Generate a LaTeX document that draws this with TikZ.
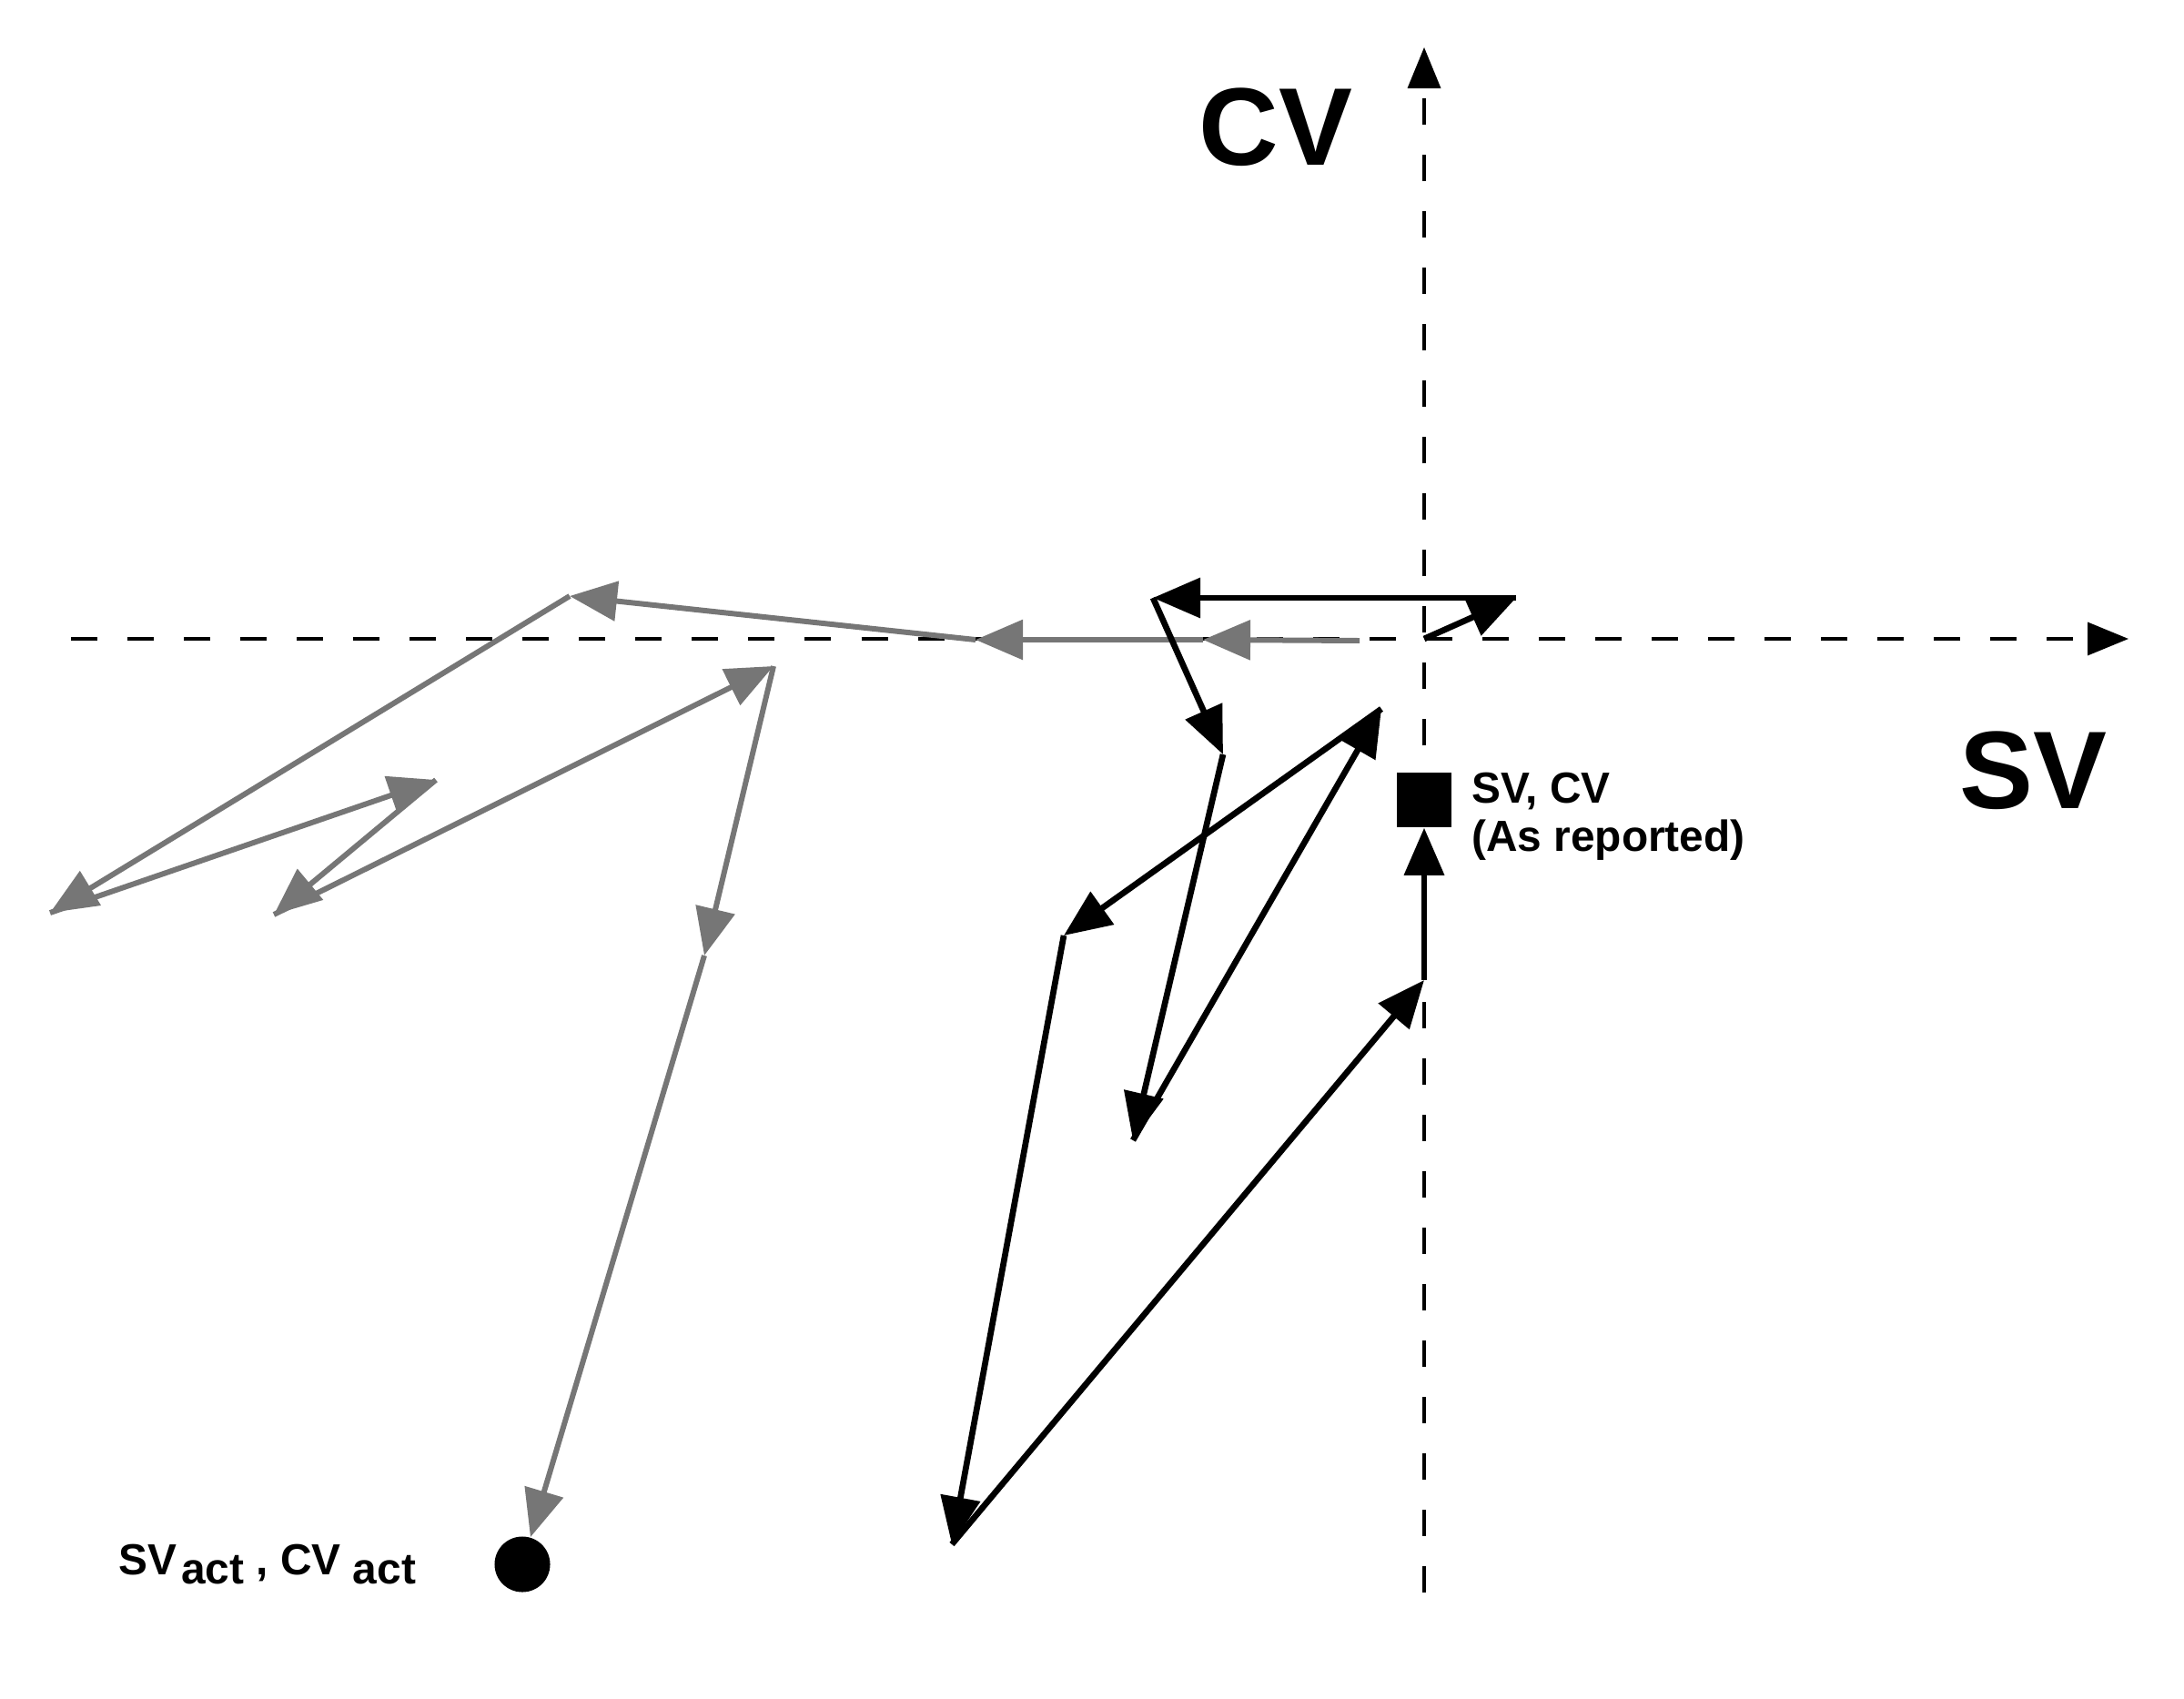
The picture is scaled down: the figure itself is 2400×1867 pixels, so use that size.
\documentclass[tikz,border=0pt]{standalone}
\usepackage{fontspec}
\setmainfont{Liberation Sans}
\usetikzlibrary{arrows.meta,positioning}
\definecolor{pathgray}{RGB}{118,118,118}
\tikzstyle{axis} = [draw,line width=1pt,dash pattern=on 2.9mm off 3.3mm,-{Triangle[length=4.5mm,width=3.6mm]}]
\tikzstyle{blackmove} = [draw,line width=1.9pt,-{Triangle[length=5.2mm,width=4.3mm]}]
\tikzstyle{graymove} = [draw=pathgray,line width=1.7pt,-{Triangle[length=5.2mm,width=4.3mm]}]
\tikzstyle{biglabel} = [font=\fontsize{34.5}{36}\selectfont\bfseries,inner sep=0pt]
\tikzstyle{smalllabel} = [font=\fontsize{13.6}{15.2}\selectfont\bfseries,inner sep=0pt,align=left]
\tikzstyle{marker} = [fill=black,inner sep=0pt]

\begin{document}
\begin{tikzpicture}[x=0.01cm,y=-0.01cm]
    \useasboundingbox (0,0) rectangle (2400,1867);

    % axes
    \coordinate (xstart) at (78,702);
    \coordinate (xend) at (2339,702);
    \coordinate (ystart) at (1565,1750);
    \coordinate (yend) at (1565,52);
    \path[axis] (xstart) -- (xend);
    \path[axis] (ystart) -- (yend);
    \node[biglabel] (cvaxis) at (1402,140) {CV};
    \node[biglabel] (svaxis) at (2234,847) {SV};

    % end points
    \node[marker,minimum size=6mm] (reported) at (1565,879) {};
    \node[marker,circle,minimum size=6.1mm] (actual) at (574,1719) {};
    \node[smalllabel,right=2.1mm of reported.north east,anchor=north west] (reportedtext) {SV, CV\\(As reported)};
    \node[smalllabel,left=8.5mm of actual] (actualtext) {SV\kern0.5mm\raisebox{-1mm}{act} , CV \raisebox{-1mm}{act}};

    \coordinate (g0) at (1494,704);
    \coordinate (g1) at (1322,703);
    \coordinate (g2) at (1072,703);
    \coordinate (g3) at (626,655);
    \coordinate (g4) at (55,1003);
    \coordinate (g5) at (479,857);
    \coordinate (g6) at (301,1005);
    \coordinate (g7) at (850,732);
    \coordinate (g8) at (774,1050);

    \coordinate (b0) at (1565,702);
    \coordinate (b1) at (1666,657);
    \coordinate (b2) at (1267,657);
    \coordinate (b3) at (1344,829);
    \coordinate (b4) at (1245,1253);
    \coordinate (b5) at (1518,779);
    \coordinate (b6) at (1169,1028);
    \coordinate (b7) at (1046,1697);
    \coordinate (b8) at (1565,1077);

    % gray steps towards the actual values
    \foreach \source/ \dest in {g0/g1, g1/g2, g2/g3, g3/g4, g4/g5, g5/g6, g6/g7, g7/g8, g8/actual}
        \path[graymove] (\source) -- (\dest);
    % black steps towards the reported values
    \foreach \source/ \dest in {b0/b1, b1/b2, b2/b3, b3/b4, b4/b5, b5/b6, b6/b7, b7/b8, b8/reported}
        \path[blackmove] (\source) -- (\dest);

\end{tikzpicture}
\end{document}
